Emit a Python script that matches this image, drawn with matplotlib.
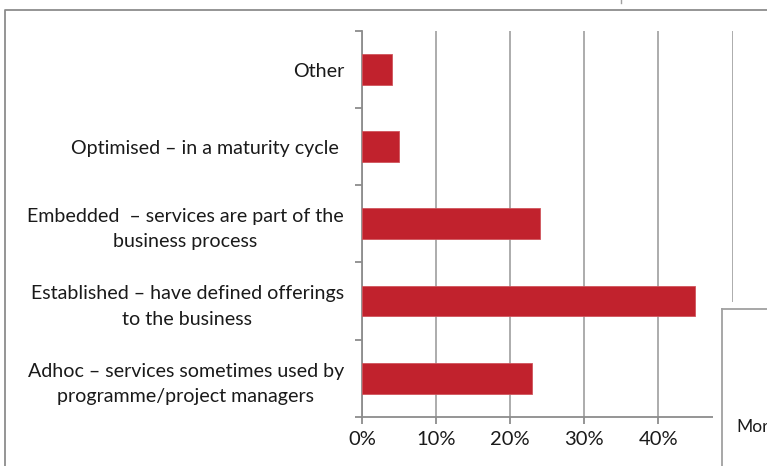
import matplotlib
matplotlib.use("Agg")
import matplotlib.pyplot as plt
from matplotlib.lines import Line2D
from matplotlib.patches import Rectangle

categories = [
    "Other",
    "Optimised \u2013 in a maturity cycle ",
    "Embedded  \u2013 services are part of the\nbusiness process",
    "Established \u2013 have defined offerings\nto the business",
    "Adhoc \u2013 services sometimes used by\nprogramme/project managers",
]
values = [4, 5, 24, 45, 23]
xticks = [0, 10, 20, 30, 40, 50]
xticklabels = ["0%", "10%", "20%", "30%", "40%", ""]  # 50% label is hidden behind the box

plt.rcParams['font.family'] = ['Lato', 'DejaVu Sans']

W, H = 767, 466
fig = plt.figure(figsize=(W / 100, H / 100), dpi=100)
fig.patch.set_facecolor('white')

def fx(x):
    return x / W

def fy(y):
    return 1 - y / H

ax = fig.add_axes([fx(362), fy(416.7), fx(732.5) - fx(362), fy(31) - fy(416.7)])

ypos = list(range(len(categories)))
ax.barh(ypos, values, height=0.4, color='#C1222D', edgecolor='#D0555C', linewidth=0.6, zorder=3)
ax.set_ylim(len(categories) - 0.5, -0.5)
ax.set_xlim(0, 50)

ax.set_xticks(xticks)
ax.set_xticklabels(xticklabels)
ax.set_yticks([i - 0.5 for i in range(len(categories) + 1)])
ax.set_yticklabels([])
ax.set_yticks(ypos, minor=True)
ax.set_yticklabels(categories, minor=True)

ax.grid(axis='x', color='#A6A6A6', linewidth=1.3, zorder=0)
for s in ['top', 'right']:
    ax.spines[s].set_visible(False)
for s in ['left', 'bottom']:
    ax.spines[s].set_color('#8C8C8C')
    ax.spines[s].set_linewidth(1.3)

ax.tick_params(axis='y', which='major', length=5, width=1.3, color='#8C8C8C')
ax.tick_params(axis='y', which='minor', length=0, pad=13, labelsize=14.1, labelcolor='#1A1A1A')
ax.tick_params(axis='x', length=5, width=1.3, color='#8C8C8C', pad=5, labelsize=14.5, labelcolor='#1A1A1A')
for lab in ax.get_yticklabels(minor=True):
    lab.set_multialignment('center')
    lab.set_linespacing(1.58)

# overlapping box at bottom right
fig.add_artist(Rectangle((fx(713), 0), 1 - fx(713), fy(302), transform=fig.transFigure,
                         facecolor='white', edgecolor='none', zorder=10))
fig.add_artist(Line2D([fx(722), fx(722)], [0, fy(309)], transform=fig.transFigure,
                      color='#A0A0A0', linewidth=1.3, zorder=11))
fig.add_artist(Line2D([fx(722), 1], [fy(309), fy(309)], transform=fig.transFigure,
                      color='#A0A0A0', linewidth=1.3, zorder=11))
fig.text(fx(736), fy(427), "Mor", fontsize=12.5, color='#1A1A1A', va='center', ha='left', zorder=12)

# outer chart border
fig.add_artist(Line2D([fx(5), fx(5), 1], [0, fy(9.5), fy(9.5)], transform=fig.transFigure,
                      color='#8C8C8C', linewidth=1.3, zorder=11))
fig.add_artist(Line2D([fx(621), fx(621)], [1, fy(2.5)], transform=fig.transFigure,
                      color='#A0A0A0', linewidth=1.0, zorder=11))

fig.savefig("out.png", dpi=100, facecolor='white')
